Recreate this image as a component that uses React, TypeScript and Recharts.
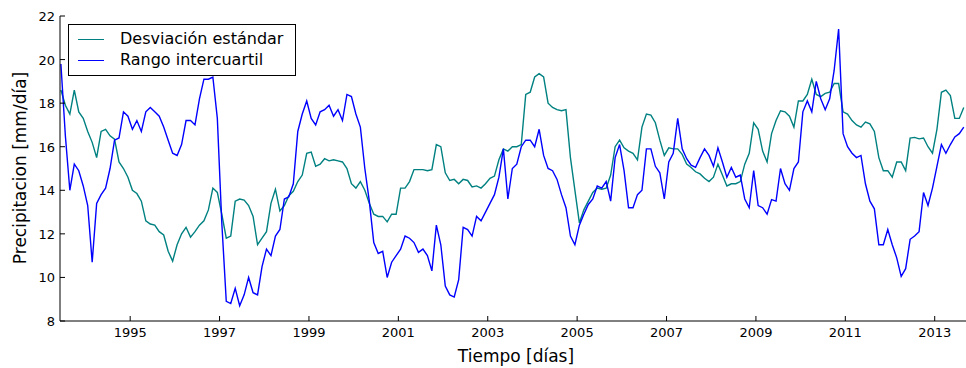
import { LineChart, Line, XAxis, YAxis, Legend } from "recharts";

// sampled every 0.1 year starting at START_YEAR
const START_YEAR = 1993.45;
const STEP = 0.1;

const sdValues = [
  18.6, 17.9, 17.5, 18.6, 17.6, 17.3, 16.7, 16.2, 15.5, 16.7,
  16.8, 16.5, 16.35, 15.3, 15.0, 14.6, 14.0, 13.85, 13.5, 12.6,
  12.45, 12.4, 12.1, 11.95, 11.2, 10.75, 11.5, 12.0, 12.3, 11.85,
  12.1, 12.4, 12.6, 13.1, 14.1, 13.9, 12.9, 11.8, 11.9, 13.5,
  13.6, 13.55, 13.3, 12.8, 11.5, 11.8, 12.1, 13.4, 14.05, 13.05,
  13.3, 13.75, 13.95, 14.4, 14.7, 15.7, 15.75, 15.1, 15.2, 15.45,
  15.35, 15.4, 15.35, 15.3, 15.0, 14.3, 14.1, 14.4, 14.0, 13.4,
  12.9, 12.8, 12.8, 12.55, 12.9, 12.9, 14.1, 14.1, 14.4, 14.95,
  14.95, 14.95, 14.9, 14.95, 16.1, 16.0, 14.8, 14.45, 14.5, 14.3,
  14.5, 14.45, 14.15, 14.2, 14.1, 14.3, 14.55, 14.65, 15.4, 15.9,
  15.8, 16.0, 16.0, 16.1, 18.4, 18.5, 19.2, 19.35, 19.2, 18.0,
  17.8, 17.7, 17.65, 17.7, 15.5, 14.0, 12.5, 13.1, 13.5, 13.9,
  14.1, 14.05, 14.1, 14.7, 16.0, 16.3, 15.95, 15.8, 15.7, 15.4,
  16.9, 17.5, 17.45, 17.1, 16.3, 15.6, 15.95, 15.9, 15.9, 15.65,
  15.2, 15.05, 14.85, 14.75, 14.55, 14.4, 14.6, 15.2, 14.7, 14.2,
  14.3, 14.3, 14.4, 15.2, 15.7, 17.1, 16.8, 15.8, 15.3, 16.6,
  17.2, 17.65, 17.6, 17.4, 16.9, 18.1, 18.1, 18.4, 19.1, 18.4,
  18.3, 18.45, 18.5, 18.9, 18.9, 17.6, 17.5, 17.2, 17.0, 16.9,
  17.13, 17.05, 16.7, 15.5, 14.9, 14.9, 14.6, 15.3, 15.3, 14.9,
  16.4, 16.43, 16.36, 16.4, 16.0, 15.7, 16.8, 18.5, 18.6, 18.35,
  17.3, 17.3, 17.8,
];

const iqrValues = [
  19.8, 16.5, 14.0, 15.2, 14.9, 14.2, 13.3, 10.7, 13.4, 13.8,
  14.1, 15.0, 16.3, 16.4, 17.6, 17.4, 16.8, 17.2, 16.7, 17.6,
  17.8, 17.6, 17.4, 16.9, 16.3, 15.7, 15.6, 16.1, 17.2, 17.2,
  17.0, 18.2, 19.1, 19.1, 19.2, 17.3, 12.5, 8.9, 8.8, 9.5,
  8.7, 9.2, 10.0, 9.3, 9.2, 10.5, 11.3, 11.0, 11.9, 12.2,
  13.6, 13.7, 14.3, 16.7, 17.5, 18.1, 17.3, 17.0, 17.6, 17.7,
  17.9, 17.4, 17.7, 17.2, 18.4, 18.3, 17.5, 16.9, 15.0, 13.5,
  11.6, 11.1, 11.2, 10.0, 10.7, 11.0, 11.3, 11.9, 11.8, 11.6,
  11.15, 11.3, 11.0, 10.3, 12.4, 11.5, 9.6, 9.2, 9.1, 9.9,
  12.3, 12.2, 11.9, 12.8, 12.6, 13.0, 13.4, 13.8, 14.6, 15.9,
  13.6, 15.0, 15.2, 16.0, 16.3, 16.3, 16.0, 16.8, 15.6, 15.0,
  14.9, 14.5, 13.8, 13.2, 11.9, 11.5, 12.4, 12.9, 13.35, 13.6,
  14.2, 14.1, 14.4, 13.5, 15.5, 16.1, 14.9, 13.2, 13.2, 13.8,
  14.0, 15.9, 15.9, 15.1, 14.8, 13.6, 15.3, 15.7, 17.3, 15.9,
  15.45, 15.15, 15.05, 15.5, 15.9, 15.6, 15.1, 15.95, 15.3, 14.6,
  15.05, 14.6, 14.7, 13.6, 13.2, 14.9, 13.3, 13.2, 12.9, 13.57,
  13.5, 15.0, 14.3, 14.0, 15.0, 15.3, 17.6, 18.1, 17.6, 19.0,
  18.2, 17.7, 18.2, 19.5, 21.4, 16.6, 16.0, 15.7, 15.5, 15.6,
  14.3, 13.5, 13.15, 11.5, 11.5, 12.2, 11.5, 10.9, 10.05, 10.4,
  11.75, 11.9, 12.1, 13.9, 13.3, 14.1, 15.1, 16.1, 15.7, 16.1,
  16.45, 16.6, 16.9,
];

const yearTicks = [1995, 1997, 1999, 2001, 2003, 2005, 2007, 2009, 2011, 2013];
const valueTicks = [8, 10, 12, 14, 16, 18, 20, 22];

const SD_COLOR = "#008080";
const IQR_COLOR = "#0000ff";
const FONT = "'DejaVu Sans', sans-serif";

const data = sdValues.map((v, i) => ({
  year: +(START_YEAR + i * STEP).toFixed(2),
  sd: v,
  iqr: iqrValues[i],
}));

const BottomTick = ({ x, y, payload }: any) => (
  <g>
    <line x1={x} y1={y} x2={x} y2={y - 5} stroke="#000" />
    <text x={x} y={y + 16} textAnchor="middle" fontSize={13} fontFamily={FONT} fill="#000">
      {payload.value}
    </text>
  </g>
);

const TopTick = ({ x, y }: any) => (
  <line x1={x} y1={y} x2={x} y2={y + 5} stroke="#000" />
);

const LeftTick = ({ x, y, payload }: any) => (
  <g>
    <line x1={x} y1={y} x2={x + 5} y2={y} stroke="#000" />
    <text x={x - 5} y={y + 5} textAnchor="end" fontSize={13} fontFamily={FONT} fill="#000">
      {payload.value}
    </text>
  </g>
);

const LegendBox = () => (
  <div
    style={{
      position: "relative",
      width: 228,
      height: 52,
      border: "1px solid #000",
      boxSizing: "border-box",
      background: "#fff",
      fontFamily: FONT,
      fontSize: 16,
      color: "#000",
    }}
  >
    {[
      { label: "Desviación estándar", color: SD_COLOR, top: 14 },
      { label: "Rango intercuartil", color: IQR_COLOR, top: 35 },
    ].map((r) => (
      <div key={r.label}>
        <div
          style={{
            position: "absolute",
            left: 9,
            top: r.top,
            width: 26,
            height: 0,
            borderTop: `1.5px solid ${r.color}`,
          }}
        />
        <div style={{ position: "absolute", left: 51, top: r.top - 10, whiteSpace: "nowrap", lineHeight: "20px" }}>
          {r.label}
        </div>
      </div>
    ))}
  </div>
);

export default function App() {
  return (
    <div style={{ position: "absolute", left: 0, top: 0, background: "#fff" }}>
      <LineChart width={966} height={368} data={data} margin={{ top: 16, right: 0, bottom: 0, left: 0 }}>
        <XAxis
          dataKey="year"
          type="number"
          domain={[1993.43, 2013.7]}
          allowDataOverflow
          ticks={yearTicks}
          height={47}
          tickSize={0}
          tickMargin={0}
          tickLine={false}
          tick={<BottomTick />}
          axisLine={{ stroke: "#000" }}
          label={{
            content: () => (
              <text x={516} y={362} textAnchor="middle" fontSize={17} fontFamily={FONT} fill="#000">
                Tiempo [días]
              </text>
            ),
          }}
        />
        <XAxis
          xAxisId="top"
          orientation="top"
          dataKey="year"
          type="number"
          domain={[1993.43, 2013.7]}
          allowDataOverflow
          ticks={yearTicks}
          height={0}
          tickSize={0}
          tickMargin={0}
          tickLine={false}
          tick={<TopTick />}
          axisLine={{ stroke: "#000" }}
        />
        <YAxis
          domain={[8, 22]}
          ticks={valueTicks}
          width={60}
          tickSize={0}
          tickMargin={0}
          tickLine={false}
          tick={<LeftTick />}
          axisLine={{ stroke: "#000" }}
          label={{
            content: () => (
              <text
                x={26}
                y={168}
                textAnchor="middle"
                fontSize={17}
                fontFamily={FONT}
                fill="#000"
                transform="rotate(-90 26 168)"
              >
                Precipitacion [mm/día]
              </text>
            ),
          }}
        />
        <Legend
          layout="vertical"
          align="center"
          verticalAlign="middle"
          wrapperStyle={{ left: 68, top: 24, width: 228, height: 52 }}
          content={() => <LegendBox />}
        />
        <Line
          type="linear"
          dataKey="sd"
          name="Desviación estándar"
          stroke={SD_COLOR}
          strokeWidth={1.4}
          dot={false}
          isAnimationActive={false}
        />
        <Line
          type="linear"
          dataKey="iqr"
          name="Rango intercuartil"
          stroke={IQR_COLOR}
          strokeWidth={1.4}
          dot={false}
          isAnimationActive={false}
        />
      </LineChart>
    </div>
  );
}
